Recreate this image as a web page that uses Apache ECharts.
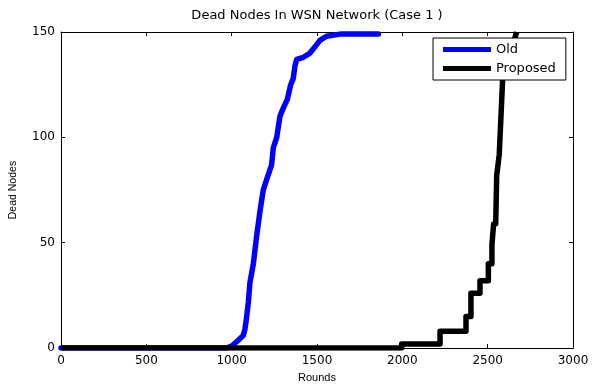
<!DOCTYPE html>
<html>
<head>
<meta charset="utf-8">
<script src="https://cdn.jsdelivr.net/npm/echarts@6/dist/echarts.min.js"></script>
<style>
  html, body { margin: 0; padding: 0; background: #fff; }
  #main { width: 593px; height: 388px; }
</style>
</head>
<body>
<div id="main"></div>
<script>
// values: [round, dead nodes]
var oldRounds = [0, 971, 1000, 1029, 1068, 1078, 1088, 1098, 1107, 1127, 1146, 1166, 1185, 1205, 1234, 1244, 1264, 1283, 1303, 1326, 1346, 1361, 1371, 1381, 1420, 1459, 1498, 1517, 1556, 1635, 1860];
var oldDead   = [0,   0,    1,    3,    6,    9,   15,   22,   31,   40,   53,   65,   75,   80,   87,   95,  100,  110,  114,  118,  125,  128,  134,  137,  138,  140,  144,  146,  148,  149,  149];

var newRounds = [0, 1996, 1996, 2221, 2221, 2373, 2373, 2402, 2402, 2455, 2455, 2504, 2504, 2525, 2525, 2535, 2535, 2547, 2553, 2568, 2588, 2670];
var newDead   = [0,    0,    2,    2,    8,    8,   15,   15,   26,   26,   32,   32,   40,   40,   49,   49,   59,   59,   82,   92,  128,  150];

var xTicks = [0, 500, 1000, 1500, 2000, 2500, 3000];
var yTicks = [0, 50, 100, 150];
var seriesNames = ['Old', 'Proposed'];

function pairs(xs, ys) {
  var out = [];
  for (var i = 0; i < xs.length; i++) out.push([xs[i], ys[i]]);
  return out;
}

var chart = echarts.init(document.getElementById('main'));

var tickFont = { color: '#000', fontFamily: 'DejaVu Sans', fontSize: 12 };

chart.setOption({
  animation: false,
  title: {
    text: 'Dead Nodes In WSN Network (Case 1 )',
    left: 317,
    top: 9,
    textAlign: 'center',
    padding: 0,
    textStyle: { fontFamily: 'DejaVu Sans', fontSize: 13, fontWeight: 'normal', color: '#000' }
  },
  legend: {
    data: seriesNames,
    orient: 'vertical',
    left: 433,
    top: 38,
    icon: 'rect',
    itemWidth: 48,
    itemHeight: 5,
    itemGap: 4,
    padding: [4, 10, 4, 10],
    backgroundColor: '#fff',
    borderColor: '#000',
    borderWidth: 1,
    borderRadius: 0,
    textStyle: { fontFamily: 'DejaVu Sans', fontSize: 13, color: '#000', lineHeight: 15 }
  },
  grid: { left: 61, right: 20, top: 32, bottom: 35, containLabel: false },
  xAxis: [{
    type: 'value',
    min: 0, max: 3000, interval: 500,
    name: 'Rounds',
    nameLocation: 'middle',
    nameGap: 21,
    nameTextStyle: { fontFamily: 'Liberation Sans', fontSize: 11, color: '#000' },
    axisLine: { show: true, onZero: false, lineStyle: { color: '#000', width: 1 } },
    axisTick: { show: true, inside: true, length: 4, lineStyle: { color: '#000' } },
    axisLabel: Object.assign({ margin: 7, formatter: function (v) { return xTicks.indexOf(v) >= 0 ? String(v) : ''; } }, tickFont),
    splitLine: { show: false }
  }, {
    type: 'value',
    position: 'top',
    min: 0, max: 3000, interval: 500,
    axisLine: { show: true, onZero: false, lineStyle: { color: '#000', width: 1 } },
    axisTick: { show: true, inside: true, length: 4, lineStyle: { color: '#000' } },
    axisLabel: { show: false },
    splitLine: { show: false }
  }],
  yAxis: [{
    type: 'value',
    min: 0, max: 150, interval: 50,
    name: 'Dead Nodes',
    nameLocation: 'middle',
    nameGap: 42,
    nameTextStyle: { fontFamily: "'Liberation Sans Narrow', 'Liberation Sans'", fontSize: 10.5, color: '#000' },
    axisLine: { show: true, onZero: false, lineStyle: { color: '#000', width: 1 } },
    axisTick: { show: true, inside: true, length: 4, lineStyle: { color: '#000' } },
    axisLabel: Object.assign({ margin: 6, formatter: function (v) { return yTicks.indexOf(v) >= 0 ? String(v) : ''; } }, tickFont),
    splitLine: { show: false }
  }, {
    type: 'value',
    position: 'right',
    min: 0, max: 150, interval: 50,
    axisLine: { show: true, onZero: false, lineStyle: { color: '#000', width: 1 } },
    axisTick: { show: true, inside: true, length: 4, lineStyle: { color: '#000' } },
    axisLabel: { show: false },
    splitLine: { show: false }
  }],
  series: [{
    name: seriesNames[0],
    type: 'line',
    data: pairs(oldRounds, oldDead),
    showSymbol: false,
    color: '#0000ff',
    lineStyle: { width: 5.5, color: '#0000ff', join: 'round', cap: 'round' },
    z: 2
  }, {
    name: seriesNames[1],
    type: 'line',
    data: pairs(newRounds, newDead),
    showSymbol: false,
    color: '#000',
    lineStyle: { width: 5.5, color: '#000', join: 'round', cap: 'butt' },
    z: 3
  }]
});
</script>
</body>
</html>
